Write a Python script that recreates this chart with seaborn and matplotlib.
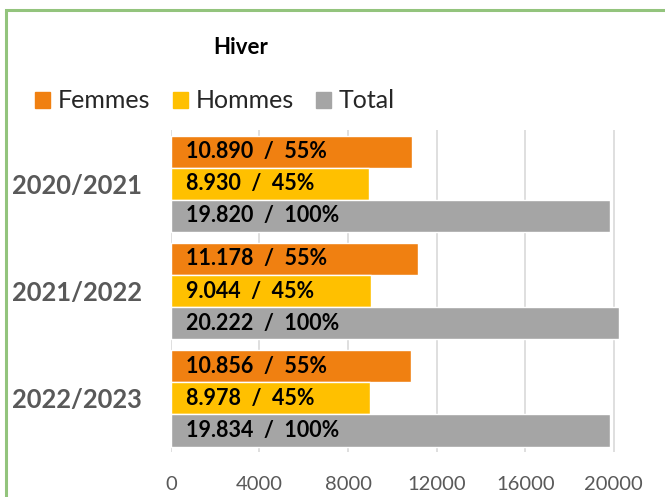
import matplotlib
matplotlib.use("Agg")
import matplotlib.pyplot as plt
import matplotlib.patches as mpatches
import pandas as pd
import seaborn as sns

# data
years = ["2020/2021", "2021/2022", "2022/2023"]
series = ["Femmes", "Hommes", "Total"]
femmes = [10890, 11178, 10856]
hommes = [8930, 9044, 8978]
total = [19820, 20222, 19834]
x_ticks = [0, 4000, 8000, 12000, 16000, 20000]

colors = {"Femmes": "#F08011", "Hommes": "#FFC000", "Total": "#A5A5A5"}

rows = []
for i, y in enumerate(years):
    for s, vals in zip(series, [femmes, hommes, total]):
        rows.append({"annee": y, "serie": s, "valeur": vals[i], "total": total[i]})
df = pd.DataFrame(rows)

sns.set_theme(style="white")
plt.rcParams["font.family"] = ["Lato", "DejaVu Sans"]

fig = plt.figure(figsize=(6.65, 4.97), dpi=100)
ax = fig.add_axes([0.257, 0.0905, 0.676, 0.6476])

sns.barplot(data=df, x="valeur", y="annee", hue="serie", orient="h",
            palette=colors, width=0.9, gap=0, saturation=1, ax=ax,
            legend=False, zorder=2)

ax.set_xlim(0, 20300)
ax.set_xticks(x_ticks)
ax.set_xticklabels([str(t) for t in x_ticks], fontsize=14.5, color="#595959")
ax.tick_params(axis="x", length=0, pad=17)
ax.tick_params(axis="y", length=0, pad=21)
for lab in ax.get_yticklabels():
    lab.set_fontsize(18.4)
    lab.set_fontweight("bold")
    lab.set_color("#595959")
ax.set_xlabel("")
ax.set_ylabel("")
ax.grid(axis="x", color="#D9D9D9", linewidth=1.2, zorder=0)
ax.set_axisbelow(True)
for sp in ax.spines.values():
    sp.set_visible(False)

# value labels inside the bars
for cont, s in zip(ax.containers, series):
    sub = df[df["serie"] == s]
    for patch, (_, r) in zip(cont.patches, sub.iterrows()):
        v = int(r["valeur"])
        pct = round(v / r["total"] * 100)
        txt = f"{v:,}".replace(",", ".") + f"  /  {pct}%"
        yc = patch.get_y() + patch.get_height() / 2
        ax.text(700, yc, txt, va="center", ha="left", fontsize=15.5,
                fontweight="bold", color="black", zorder=3)

# legend
handles = [mpatches.Patch(color=colors[s], label=s) for s in series]
fig.legend(handles=handles, loc="center left", bbox_to_anchor=(0.038, 1 - 101 / 497),
           ncol=3, frameon=False, fontsize=18, handlelength=0.6,
           handleheight=0.6, handletextpad=0.3, columnspacing=0.9,
           borderaxespad=0)

fig.text(241 / 665, 1 - 47 / 497, "Hiver", ha="center", va="center",
         fontsize=16, fontweight="bold", color="black")

# chart frame
fig.patches.append(mpatches.Rectangle((6 / 665, -0.1), 1.2, 1 - 10 / 497 + 0.1,
                                      transform=fig.transFigure, fill=False,
                                      edgecolor="#93C47D", linewidth=2.2))

fig.savefig("out.png", dpi=100)
